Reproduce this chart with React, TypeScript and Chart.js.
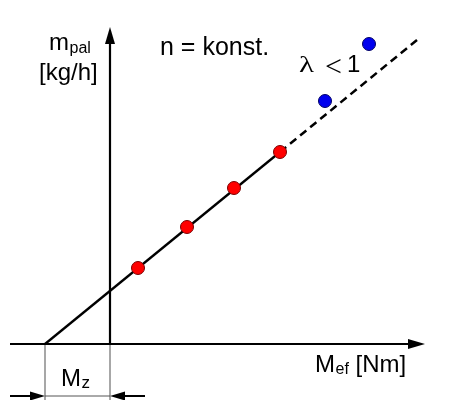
import React, { useEffect, useRef } from "react";
import { Chart, registerables } from "chart.js";

Chart.register(...registerables);

// Schematic data (abstract units, y-axis at x = 0, x-axis at y = 0)
const MZ = -6.5; // friction torque intercept
const solidX = [MZ, 17.0];
const solidY = [0, 19.2];
const dashedX = [17.0, 30.7];
const dashedY = [19.2, 30.4];
const redX = [2.8, 7.7, 12.4, 17.0];
const redY = [7.6, 11.7, 15.6, 19.2];
const blueX = [21.5, 25.9];
const blueY = [24.3, 30.0];

const toPts = (xs: number[], ys: number[]) => xs.map((v, i) => ({ x: v, y: ys[i] }));

const SANS = '"Liberation Sans", Arial, sans-serif';
const SERIF = '"Liberation Serif", "Times New Roman", serif';

function arrowHead(ctx: CanvasRenderingContext2D, tx: number, ty: number, dx: number, dy: number, len: number, half: number) {
  const bx = tx - dx * len;
  const by = ty - dy * len;
  const nx = -dy;
  const ny = dx;
  ctx.beginPath();
  ctx.moveTo(tx, ty);
  ctx.lineTo(bx + nx * half, by + ny * half);
  ctx.lineTo(bx - nx * half, by - ny * half);
  ctx.closePath();
  ctx.fill();
}

const schematicPlugin = {
  id: "schematic",
  beforeDatasetsDraw(chart: any) {
    const { ctx, scales } = chart;
    const px = (v: number) => scales.x.getPixelForValue(v);
    const py = (v: number) => scales.y.getPixelForValue(v);
    ctx.save();
    // dimension extension lines (grey)
    ctx.strokeStyle = "#8a8a8a";
    ctx.lineWidth = 1.5;
    ctx.beginPath();
    ctx.moveTo(px(MZ), py(0));
    ctx.lineTo(px(MZ), py(-5.6));
    ctx.moveTo(px(0), py(0));
    ctx.lineTo(px(0), py(-5.6));
    ctx.stroke();
    ctx.lineWidth = 1;
    ctx.strokeStyle = "#555";
    ctx.beginPath();
    ctx.moveTo(px(MZ), py(-5.2));
    ctx.lineTo(px(0), py(-5.2));
    ctx.stroke();
    // dimension arrows
    ctx.strokeStyle = "#000";
    ctx.fillStyle = "#000";
    ctx.lineWidth = 2;
    const dy = py(-5.2);
    ctx.beginPath();
    ctx.moveTo(px(-10), dy);
    ctx.lineTo(px(MZ) - 12, dy);
    ctx.moveTo(px(0) + 12, dy);
    ctx.lineTo(px(3.5), dy);
    ctx.stroke();
    arrowHead(ctx, px(MZ), dy, 1, 0, 15, 4.5);
    arrowHead(ctx, px(0), dy, -1, 0, 15, 4.5);
    // axes
    ctx.lineWidth = 2.2;
    const ax = py(0);
    ctx.beginPath();
    ctx.moveTo(px(-10), ax);
    ctx.lineTo(px(31.5) - 12, ax);
    ctx.stroke();
    arrowHead(ctx, px(31.5), ax, 1, 0, 17, 5);
    const ay = px(0);
    ctx.beginPath();
    ctx.moveTo(ay, ax);
    ctx.lineTo(ay, py(31.7) + 12);
    ctx.stroke();
    arrowHead(ctx, ay, py(31.7), 0, -1, 17, 5);
    ctx.restore();
  },
  afterDraw(chart: any) {
    const { ctx } = chart;
    ctx.save();
    ctx.fillStyle = "#000";
    ctx.textBaseline = "alphabetic";
    ctx.textAlign = "left";
    const sub = (main: string, s: string, x: number, y: number, size: number, subSize: number, subDrop: number) => {
      ctx.font = `${size}px ${SANS}`;
      ctx.fillText(main, x, y);
      const w = ctx.measureText(main).width;
      ctx.font = `${subSize}px ${SANS}`;
      ctx.fillText(s, x + w + 0.5, y + subDrop);
      return x + w + 0.5 + ctx.measureText(s).width;
    };
    // y axis label
    sub("m", "pal", 49, 50, 24, 16, 3);
    ctx.font = `24px ${SANS}`;
    ctx.fillText("[kg/h]", 39, 80);
    // n = konst.
    ctx.font = `25px ${SANS}`;
    ctx.fillText("n = konst.", 160, 55);
    // lambda < 1
    ctx.font = `24px ${SERIF}`;
    ctx.save();
    ctx.translate(299, 72);
    ctx.scale(1.3, 1);
    ctx.fillText("\u03bb", 0, 0);
    ctx.restore();
    ctx.font = `30px ${SERIF}`;
    ctx.fillText("<", 325, 76);
    ctx.font = `24px ${SANS}`;
    ctx.fillText("1", 347, 72);
    // x axis label
    const e = sub("M", "ef", 315, 372, 24, 16, 2);
    ctx.font = `24px ${SANS}`;
    ctx.fillText(" [Nm]", e, 372);
    // Mz
    sub("M", "z", 61, 386, 24, 17, 2);
    ctx.restore();
  },
};

export default function App() {
  const ref = useRef<HTMLCanvasElement | null>(null);
  useEffect(() => {
    if (!ref.current) return;
    const chart = new Chart(ref.current, {
      type: "scatter",
      data: {
        datasets: [
          {
            type: "line",
            data: toPts(solidX, solidY),
            borderColor: "#000",
            borderWidth: 2.3,
            pointRadius: 0,
            showLine: true,
            order: 3,
          } as any,
          {
            type: "line",
            data: toPts(dashedX, dashedY),
            borderColor: "#000",
            borderWidth: 2.5,
            borderDash: [8, 5],
            pointRadius: 0,
            showLine: true,
            order: 3,
          } as any,
          {
            data: toPts(redX, redY),
            backgroundColor: "#ff0000",
            borderColor: "#7a0000",
            borderWidth: 1,
            pointRadius: 6.5,
            order: 1,
          },
          {
            data: toPts(blueX, blueY),
            backgroundColor: "#0000ee",
            borderColor: "#000066",
            borderWidth: 1,
            pointRadius: 6.5,
            order: 1,
          },
        ],
      },
      options: {
        responsive: false,
        animation: false,
        layout: { padding: 0, autoPadding: false },
        plugins: { legend: { display: false }, tooltip: { enabled: false } },
        scales: {
          x: { type: "linear", display: false, min: -11, max: 34 },
          y: { type: "linear", display: false, min: -5.6, max: 34.4 },
        },
      },
      plugins: [schematicPlugin],
    });
    return () => chart.destroy();
  }, []);
  return (
    <div style={{ position: "fixed", left: 0, top: 0, width: 450, height: 400, background: "#fff" }}>
      <canvas ref={ref} width={450} height={400} />
    </div>
  );
}
